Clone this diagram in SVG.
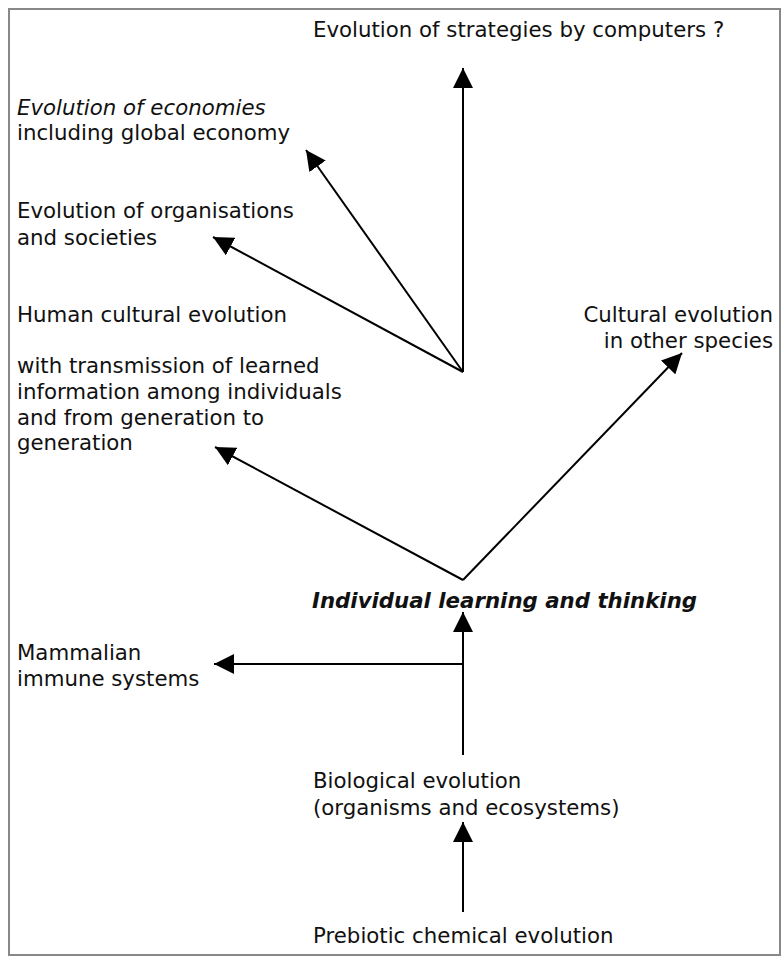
<svg xmlns="http://www.w3.org/2000/svg" width="784" height="958" viewBox="0 0 784 958">
  <style>
    text { font-family: "DejaVu Sans", Verdana, sans-serif; font-size: 21.3px; fill: #111; }
    .it { font-style: italic; }
    .bi { font-style: italic; font-weight: bold; }
    .end { text-anchor: end; }
    .edge { stroke: #000; stroke-width: 2; fill: none; marker-end: url(#head); }
  </style>
  <defs>
    <marker id="head" markerUnits="userSpaceOnUse" markerWidth="20" markerHeight="20" refX="20" refY="10" orient="auto">
      <path d="M0,0 L20,10 L0,20 Z" fill="#000"/>
    </marker>
  </defs>
  <rect x="9" y="9" width="771" height="946" fill="#fff" stroke="#888" stroke-width="2"/>

  <g id="connectors">
    <line class="edge" x1="463" y1="912" x2="463" y2="822"/>
    <line class="edge" x1="463" y1="755" x2="463" y2="612"/>
    <line class="edge" x1="463" y1="664" x2="214" y2="664"/>
    <line class="edge" x1="463" y1="580" x2="215" y2="447"/>
    <line class="edge" x1="463" y1="580" x2="682" y2="353"/>
    <line class="edge" x1="463" y1="372" x2="213" y2="237"/>
    <line class="edge" x1="463" y1="372" x2="306" y2="150"/>
    <line class="edge" x1="463" y1="372" x2="463" y2="68"/>
  </g>

  <g id="prebiotic">
    <text x="313" y="943">Prebiotic chemical evolution</text>
  </g>
  <g id="biological">
    <text x="313" y="788">Biological evolution</text>
    <text x="313" y="815">(organisms and ecosystems)</text>
  </g>
  <g id="immune">
    <text x="17" y="660">Mammalian</text>
    <text x="17" y="686">immune systems</text>
  </g>
  <g id="individual">
    <text class="bi" x="312" y="608">Individual learning and thinking</text>
  </g>
  <g id="human-culture">
    <text x="17" y="322">Human cultural evolution</text>
    <text x="17" y="373">with transmission of learned</text>
    <text x="17" y="399">information among individuals</text>
    <text x="17" y="425">and from generation to</text>
    <text x="17" y="450">generation</text>
  </g>
  <g id="other-species">
    <text class="end" x="773" y="322">Cultural evolution</text>
    <text class="end" x="773" y="348">in other species</text>
  </g>
  <g id="organisations">
    <text x="17" y="218">Evolution of organisations</text>
    <text x="17" y="245">and societies</text>
  </g>
  <g id="economies">
    <text class="it" x="17" y="115">Evolution of economies</text>
    <text x="17" y="140">including global economy</text>
  </g>
  <g id="computers">
    <text x="313" y="37">Evolution of strategies by computers ?</text>
  </g>
</svg>
